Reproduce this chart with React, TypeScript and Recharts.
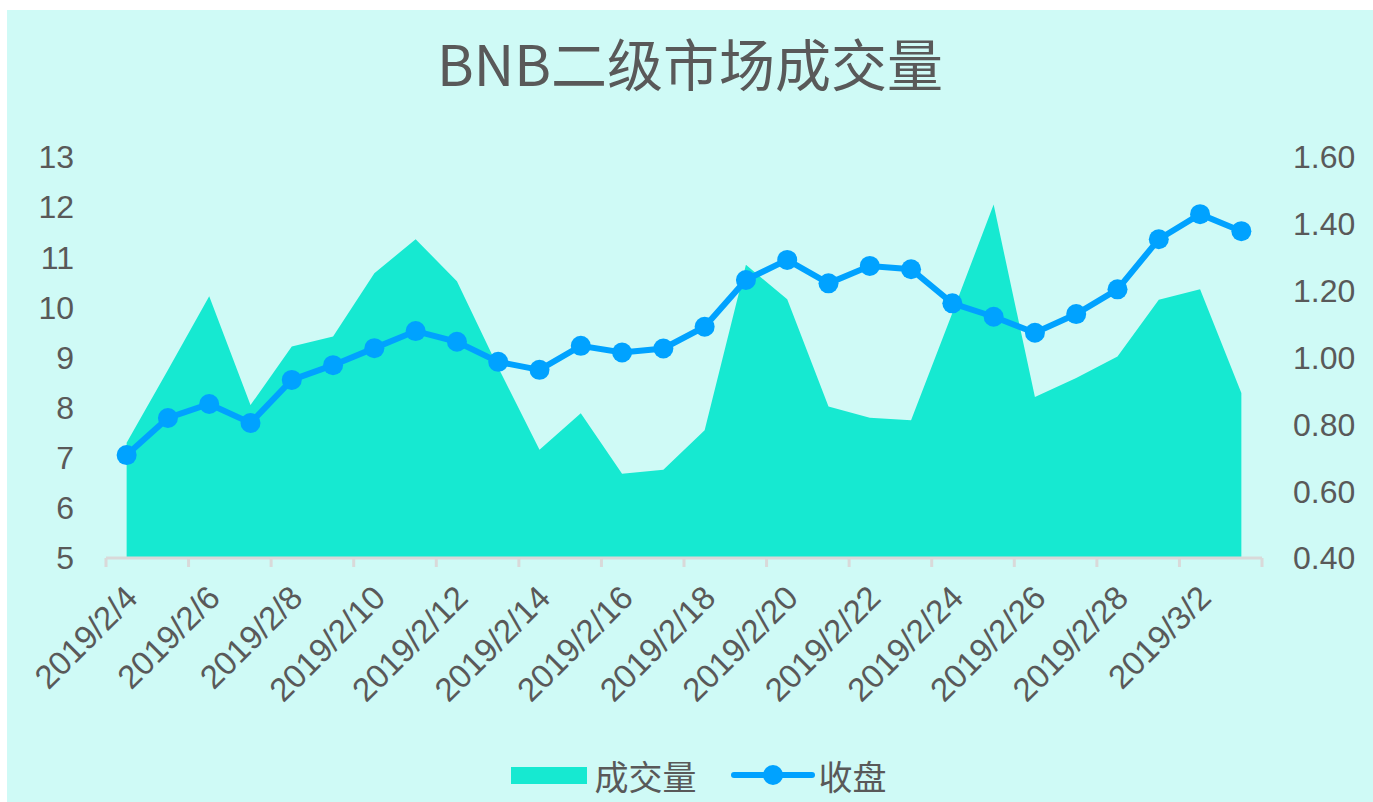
import {
  ComposedChart,
  Area,
  Line,
  XAxis,
  YAxis,
  Legend,
} from 'recharts';

const dates = [
  '2019/2/4', '2019/2/5', '2019/2/6', '2019/2/7', '2019/2/8', '2019/2/9', '2019/2/10',
  '2019/2/11', '2019/2/12', '2019/2/13', '2019/2/14', '2019/2/15', '2019/2/16', '2019/2/17',
  '2019/2/18', '2019/2/19', '2019/2/20', '2019/2/21', '2019/2/22', '2019/2/23', '2019/2/24',
  '2019/2/25', '2019/2/26', '2019/2/27', '2019/2/28', '2019/3/1', '2019/3/2', '2019/3/3',
];

// 成交量 (left axis)
const volume = [
  7.3, 8.75, 10.22, 8.05, 9.22, 9.42, 10.68, 11.36, 10.52, 8.8, 7.16, 7.89, 6.68, 6.76,
  7.55, 10.85, 10.16, 8.02, 7.8, 7.75, 9.89, 12.05, 8.21, 8.59, 9.02, 10.15, 10.36, 8.29,
];

// 收盘 (right axis)
const close = [
  0.708, 0.819, 0.861, 0.804, 0.933, 0.977, 1.028, 1.079, 1.047, 0.987, 0.963, 1.035, 1.015, 1.027,
  1.092, 1.232, 1.292, 1.222, 1.274, 1.264, 1.162, 1.122, 1.074, 1.13, 1.204, 1.354, 1.429, 1.378,
];

const leftTicks = [5, 6, 7, 8, 9, 10, 11, 12, 13];
const rightTicks = [0.4, 0.6, 0.8, 1.0, 1.2, 1.4, 1.6];

const data = dates.map((d, i) => ({ i, date: d, vol: volume[i], close: close[i] }));
// tick marks sit between categories, every second day
const boundaries = Array.from({ length: dates.length / 2 + 1 }, (_, k) => k * 2 - 0.5);

const W = 1366;
const H = 792;
const M = { top: 147, right: 21, left: 19, bottom: 7 };
const LEFT_W = 80;
const RIGHT_W = 90;
const BAND = (W - M.left - M.right - LEFT_W - RIGHT_W) / dates.length;

const TEXT = '#595959';
const FONT = '"Liberation Sans", Arial, "Noto Sans CJK SC", sans-serif';
const AREA_C = '#16e9d1';
const LINE_C = '#00a2ff';

const DateTick = (props: any) => {
  const { x, y, payload } = props;
  const idx = payload.value + 0.5;
  if (idx % 2 !== 0 || idx >= dates.length) return null;
  return (
    <g transform={`translate(${x + BAND / 2 - 4},${y + 14})`}>
      <text
        textAnchor="end"
        transform="rotate(-45)"
        dy="0.72em"
        fill={TEXT}
        fontSize={33}
        fontFamily={FONT}
      >
        {dates[idx]}
      </text>
    </g>
  );
};

const LegendBox = () => (
  <div
    style={{
      height: 40,
      marginTop: 3,
      paddingLeft: 19,
      display: 'flex',
      justifyContent: 'center',
      alignItems: 'center',
      fontFamily: FONT,
      fontSize: 34,
      color: TEXT,
    }}
  >
    <svg width={76} height={20} style={{ marginRight: 8 }}>
      <rect x={0} y={2} width={76} height={17} fill={AREA_C} />
    </svg>
    <span style={{ marginRight: 34 }}>成交量</span>
    <svg width={84} height={24} style={{ marginRight: 4 }}>
      <line x1={3} y1={12} x2={81} y2={12} stroke={LINE_C} strokeWidth={6} strokeLinecap="round" />
      <circle cx={42} cy={12} r={10} fill={LINE_C} />
    </svg>
    <span>收盘</span>
  </div>
);

export default function App() {
  return (
    <div
      style={{
        position: 'absolute',
        left: 7,
        top: 10,
        width: W,
        height: H,
        background: '#cffaf6',
      }}
    >
      <div
        style={{
          position: 'absolute',
          top: 17,
          left: 0,
          width: W,
          textAlign: 'center',
          fontFamily: '"Noto Sans CJK SC", sans-serif',
          fontSize: 56,
          color: TEXT,
          lineHeight: '70px',
        }}
      >
        BNB二级市场成交量
      </div>
      <ComposedChart width={W} height={H} data={data} margin={M}>
        <XAxis
          dataKey="i"
          type="number"
          domain={[-0.5, dates.length - 0.5]}
          ticks={boundaries}
          interval={0}
          height={194}
          axisLine={{ stroke: '#d9d9d9', strokeWidth: 3 }}
          tickLine={{ stroke: '#d9d9d9', strokeWidth: 3 }}
          tickSize={9}
          tick={<DateTick />}
        />
        <YAxis
          yAxisId="left"
          domain={[5, 13]}
          ticks={leftTicks}
          width={LEFT_W}
          axisLine={false}
          tickLine={false}
          tickSize={0}
          tickMargin={32}
          tick={{ fill: TEXT, fontSize: 32, fontFamily: FONT }}
        />
        <YAxis
          yAxisId="right"
          orientation="right"
          domain={[0.4, 1.6]}
          ticks={rightTicks}
          width={RIGHT_W}
          axisLine={false}
          tickLine={false}
          tickSize={0}
          tickMargin={31}
          tickFormatter={(v: number) => v.toFixed(2)}
          tick={{ fill: TEXT, fontSize: 32, fontFamily: FONT, textAnchor: 'start' }}
        />
        <Legend verticalAlign="bottom" content={<LegendBox />} />
        <Area
          yAxisId="left"
          type="linear"
          dataKey="vol"
          name="成交量"
          fill={AREA_C}
          fillOpacity={1}
          stroke="none"
          isAnimationActive={false}
        />
        <Line
          yAxisId="right"
          type="linear"
          dataKey="close"
          name="收盘"
          stroke={LINE_C}
          strokeWidth={6}
          dot={{ r: 10, fill: LINE_C, stroke: 'none' }}
          activeDot={false}
          isAnimationActive={false}
        />
      </ComposedChart>
    </div>
  );
}
